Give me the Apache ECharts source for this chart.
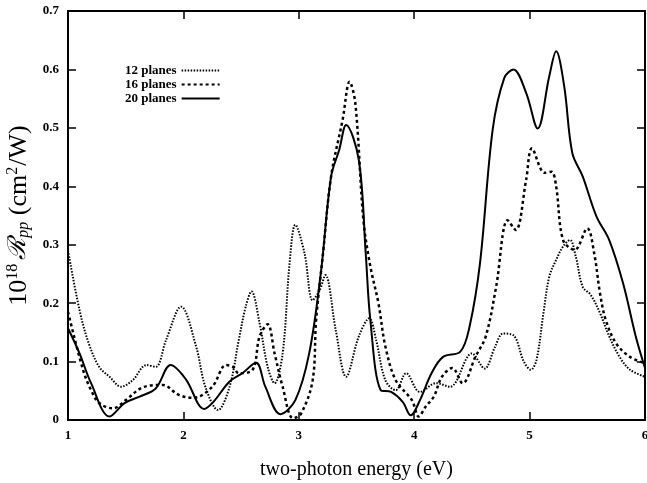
<!DOCTYPE html>
<html>
<head>
<meta charset="utf-8">
<script src="https://cdn.jsdelivr.net/npm/echarts@6/dist/echarts.min.js"></script>
<style>
    html, body { margin: 0; padding: 0; background: #fff; }
    #chart { width: 647px; height: 483px; }
</style>
</head>
<body>
<div id="chart"></div>
<script>
// photon energy (eV) / response values
const x12 = [1.0, 1.10, 1.18, 1.27, 1.36, 1.46, 1.56, 1.68, 1.76, 1.85, 1.98, 2.11, 2.19, 2.30, 2.40, 2.48, 2.54, 2.59, 2.66, 2.73,
    2.79, 2.86, 2.92, 2.97, 3.05, 3.12, 3.18, 3.23, 3.32, 3.41, 3.52, 3.61, 3.67, 3.75, 3.84, 3.93, 4.05, 4.19, 4.31, 4.50,
    4.61, 4.70, 4.77, 4.86, 4.95, 5.01, 5.06, 5.12, 5.17, 5.23, 5.29, 5.35, 5.40, 5.46, 5.53, 5.61, 5.69, 5.78, 5.87, 6.0];
const y12 = [0.29, 0.188, 0.131, 0.091, 0.074, 0.057, 0.068, 0.094, 0.091, 0.137, 0.194, 0.126, 0.057, 0.017, 0.057, 0.137, 0.194, 0.22, 0.166, 0.091,
    0.063, 0.114, 0.268, 0.334, 0.285, 0.205, 0.222, 0.248, 0.154, 0.074, 0.143, 0.174, 0.137, 0.068, 0.051, 0.08, 0.048, 0.063, 0.057, 0.114,
    0.088, 0.125, 0.148, 0.145, 0.10, 0.086, 0.103, 0.183, 0.245, 0.274, 0.297, 0.308, 0.28, 0.228, 0.214, 0.183, 0.143, 0.108, 0.086, 0.074];

const x16 = [1.0, 1.13, 1.20, 1.27, 1.39, 1.50, 1.65, 1.82, 1.96, 2.09, 2.25, 2.37, 2.43, 2.48, 2.60, 2.66, 2.73, 2.79, 2.86, 2.95,
    3.02, 3.12, 3.15, 3.21, 3.28, 3.38, 3.44, 3.49, 3.56, 3.62, 3.69, 3.75, 3.84, 3.98, 4.04, 4.10, 4.17, 4.24, 4.33, 4.42,
    4.53, 4.62, 4.71, 4.81, 4.88, 4.97, 5.02, 5.13, 5.19, 5.23, 5.29, 5.39, 5.50, 5.56, 5.61, 5.66, 5.75, 5.87, 6.0];
const y16 = [0.185, 0.086, 0.051, 0.029, 0.02, 0.034, 0.056, 0.06, 0.043, 0.038, 0.057, 0.094, 0.091, 0.08, 0.086, 0.143, 0.164, 0.114, 0.057, 0.003,
    0.011, 0.068, 0.171, 0.285, 0.417, 0.514, 0.579, 0.542, 0.342, 0.263, 0.2, 0.126, 0.068, 0.034, 0.006, 0.023, 0.04, 0.074, 0.089, 0.063,
    0.108, 0.143, 0.228, 0.342, 0.325, 0.411, 0.465, 0.423, 0.425, 0.4, 0.308, 0.291, 0.328, 0.285, 0.217, 0.171, 0.131, 0.108, 0.097];

const x20 = [1.0, 1.10, 1.20, 1.36, 1.49, 1.62, 1.76, 1.89, 2.02, 2.18, 2.26, 2.40, 2.51, 2.63, 2.71, 2.84, 2.97, 3.09, 3.19, 3.28,
    3.35, 3.41, 3.52, 3.58, 3.62, 3.71, 3.80, 3.90, 3.97, 4.05, 4.15, 4.25, 4.40, 4.48, 4.57, 4.68, 4.78, 4.86, 4.97, 5.07,
    5.17, 5.23, 5.30, 5.37, 5.46, 5.58, 5.69, 5.81, 5.92, 6.0];
const y20 = [0.157, 0.114, 0.063, 0.006, 0.029, 0.040, 0.054, 0.094, 0.070, 0.019, 0.031, 0.066, 0.080, 0.098, 0.057, 0.01, 0.034, 0.114, 0.25, 0.417,
    0.462, 0.505, 0.445, 0.285, 0.171, 0.051, 0.048, 0.031, 0.008, 0.034, 0.08, 0.108, 0.117, 0.16, 0.268, 0.497, 0.585, 0.60, 0.56, 0.499,
    0.588, 0.631, 0.571, 0.457, 0.417, 0.348, 0.308, 0.234, 0.143, 0.089];

const seriesNames = ['12 planes', '16 planes', '20 planes'];

function pairs(xs, ys) {
    return xs.map(function (x, i) { return [x, ys[i]]; });
}

let chart = echarts.init(document.getElementById('chart'));

const serif = 'Liberation Serif';
const tickLabel = { color: '#000', fontFamily: serif, fontWeight: 'bold', fontSize: 13 };
const frame = { show: true, onZero: false, lineStyle: { color: '#000', width: 2 } };
const tick = { inside: true, length: 8, lineStyle: { color: '#000', width: 1.5 } };

option = {
    backgroundColor: '#fff',
    animation: false,
    grid: { left: 68, top: 11, right: 2, bottom: 63, outerBoundsMode: 'none', containLabel: false },
    legend: {
        orient: 'vertical',
        left: 120,
        top: 59,
        align: 'right',
        itemWidth: 38,
        itemHeight: 10,
        itemGap: 1,
        data: seriesNames,
        itemStyle: { opacity: 0 },
        textStyle: { color: '#000', fontFamily: serif, fontWeight: 'bold', fontSize: 13, lineHeight: 12 }
    },
    xAxis: [{
        type: 'value',
        min: 1,
        max: 6,
        interval: 1,
        name: 'two-photon energy (eV)',
        nameLocation: 'middle',
        nameGap: 40,
        nameTextStyle: { color: '#000', fontFamily: serif, fontSize: 20 },
        axisLine: frame,
        axisTick: tick,
        axisLabel: Object.assign({ margin: 9 }, tickLabel),
        splitLine: { show: false }
    }, {
        type: 'value',
        position: 'top',
        min: 1,
        max: 6,
        interval: 1,
        axisLine: frame,
        axisTick: tick,
        axisLabel: { show: false },
        splitLine: { show: false }
    }],
    yAxis: [{
        type: 'value',
        min: 0,
        max: 0.7,
        interval: 0.1,
        name: '{n|10}{s|18}{r|ℛ}{sb|pp}{n| (cm}{s|2}{n|/W)}',
        nameLocation: 'middle',
        nameGap: 34,
        nameRotate: 90,
        nameTextStyle: {
            color: '#000',
            rich: {
                n: { fontFamily: serif, fontSize: 26, color: '#000' },
                s: { fontFamily: serif, fontSize: 16, color: '#000', verticalAlign: 'top', padding: [0, 1, 13, 0] },
                r: { fontFamily: 'DejaVu Serif', fontStyle: 'italic', fontSize: 25, color: '#000', padding: [0, 0, 0, 3] },
                sb: { fontFamily: serif, fontStyle: 'italic', fontSize: 16, color: '#000', padding: [10, 0, 0, 0] }
            }
        },
        axisLine: frame,
        axisTick: tick,
        axisLabel: Object.assign({ margin: 9 }, tickLabel),
        splitLine: { show: false }
    }, {
        type: 'value',
        position: 'right',
        min: 0,
        max: 0.7,
        interval: 0.1,
        axisLine: frame,
        axisTick: tick,
        axisLabel: { show: false },
        splitLine: { show: false }
    }],
    series: [
        {
            name: seriesNames[0],
            type: 'line',
            data: pairs(x12, y12),
            symbol: 'none',
            smooth: 0.35,
            lineStyle: { color: '#000', width: 2, type: [1.5, 1.5] },
            itemStyle: { color: '#000' }
        },
        {
            name: seriesNames[1],
            type: 'line',
            data: pairs(x16, y16),
            symbol: 'none',
            smooth: 0.35,
            lineStyle: { color: '#000', width: 2.5, type: [3, 3] },
            itemStyle: { color: '#000' }
        },
        {
            name: seriesNames[2],
            type: 'line',
            data: pairs(x20, y20),
            symbol: 'none',
            smooth: 0.35,
            lineStyle: { color: '#000', width: 2 },
            itemStyle: { color: '#000' }
        }
    ]
};

chart.setOption(option);
</script>
</body>
</html>
